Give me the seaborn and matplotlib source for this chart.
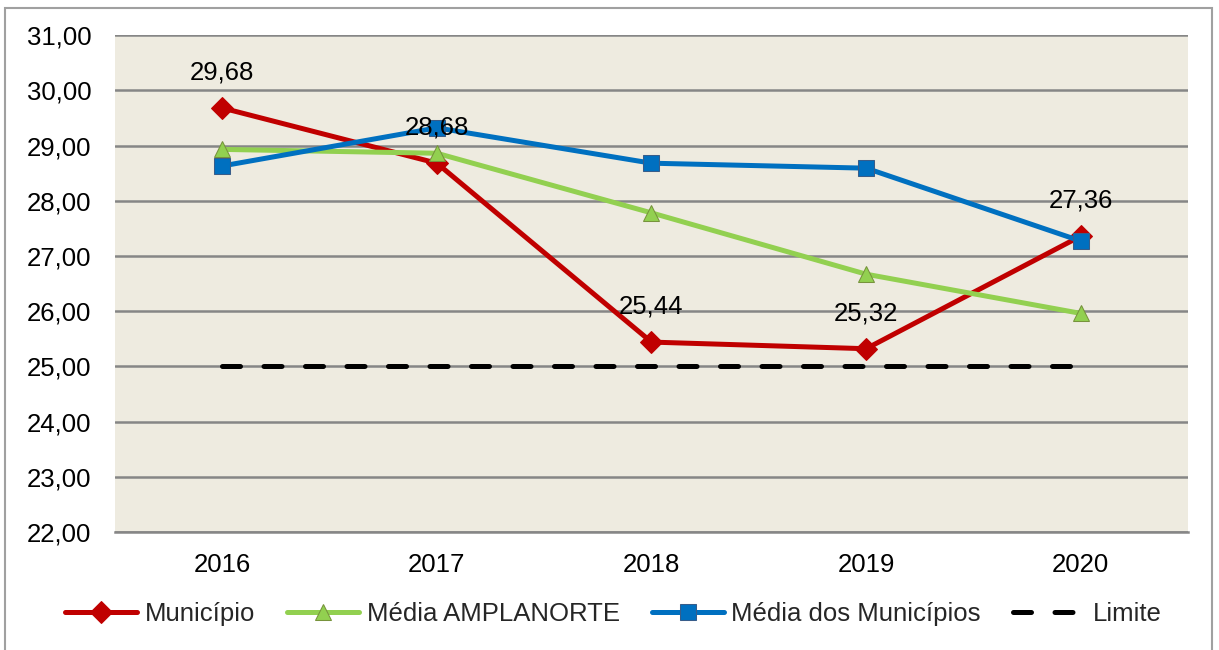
import pandas as pd
import matplotlib
matplotlib.use("Agg")
import matplotlib.pyplot as plt
import seaborn as sns
from matplotlib.patches import Rectangle

sns.set_theme(style="white")
plt.rcParams['font.family'] = ['Liberation Sans', 'DejaVu Sans']

anos = ["2016", "2017", "2018", "2019", "2020"]
municipio = [29.68, 28.68, 25.44, 25.32, 27.36]
media_amplanorte = [28.93, 28.86, 27.78, 26.67, 25.96]
media_municipios = [28.63, 29.32, 28.68, 28.59, 27.27]
limite = [25.00, 25.00, 25.00, 25.00, 25.00]
y_ticks = [22, 23, 24, 25, 26, 27, 28, 29, 30, 31]

df = pd.DataFrame({
    "ano": anos,
    "Município": municipio,
    "Média AMPLANORTE": media_amplanorte,
    "Média dos Municípios": media_municipios,
    "Limite": limite,
})

fs = 18.5

fig = plt.figure(figsize=(12.19, 6.5), dpi=100)
ax = fig.add_axes([0.0943, 0.1815, 0.8803, 0.7645])
ax.set_facecolor("#EEEBE0")

styles = {
    "Município": dict(color="#C00000", marker="D", markersize=11, markeredgecolor="#C00000", linewidth=3.6),
    "Média AMPLANORTE": dict(color="#92D050", marker="^", markersize=11, markeredgecolor="#77933C",
                             markerfacecolor="#92D050", linewidth=3.6),
    "Média dos Municípios": dict(color="#0070C0", marker="s", markersize=11, markeredgecolor="#385D8A",
                                 linewidth=3.6),
    "Limite": dict(color="black", linestyle=(0, (3.6, 4.7)), linewidth=3.6, dash_capstyle="round"),
}

for nome in ["Município", "Média AMPLANORTE", "Média dos Municípios", "Limite"]:
    sns.lineplot(data=df, x="ano", y=nome, ax=ax, label=nome, sort=False, **styles[nome])

for i, v in enumerate(municipio):
    ax.annotate(f"{v:.2f}".replace(".", ","), (i, v), xytext=(0, 17), textcoords="offset points",
                ha="center", va="bottom", fontsize=fs, color="black")

ax.set_xlim(-0.5, 4.5)
ax.set_ylim(22, 31)
ax.set_yticks(y_ticks)
ax.set_yticklabels([f"{t:.2f}".replace(".", ",") for t in y_ticks])
ax.yaxis.grid(True, color="#868686", linewidth=1.8)
ax.set_axisbelow(True)
for s in ["top", "right", "left"]:
    ax.spines[s].set_visible(False)
ax.spines["bottom"].set_color("#868686")
ax.spines["bottom"].set_linewidth(1.8)
ax.tick_params(axis="both", length=0, labelsize=fs, colors="black")
ax.tick_params(axis="x", pad=15)
ax.tick_params(axis="y", pad=17)
ax.set_xlabel("")
ax.set_ylabel("")

handles, labels = ax.get_legend_handles_labels()
ax.get_legend().remove()
fig.legend(handles, labels, loc="center", bbox_to_anchor=(0.503, 0.055), ncol=4, frameon=False,
           fontsize=fs, handlelength=2.8, columnspacing=1.25, handletextpad=0.3)

fig.patches.append(Rectangle((0.004, -0.05), 0.99, 1.037, transform=fig.transFigure,
                             fill=False, edgecolor="#A0A0A0", linewidth=1.5))

fig.savefig("out.png", dpi=100)
